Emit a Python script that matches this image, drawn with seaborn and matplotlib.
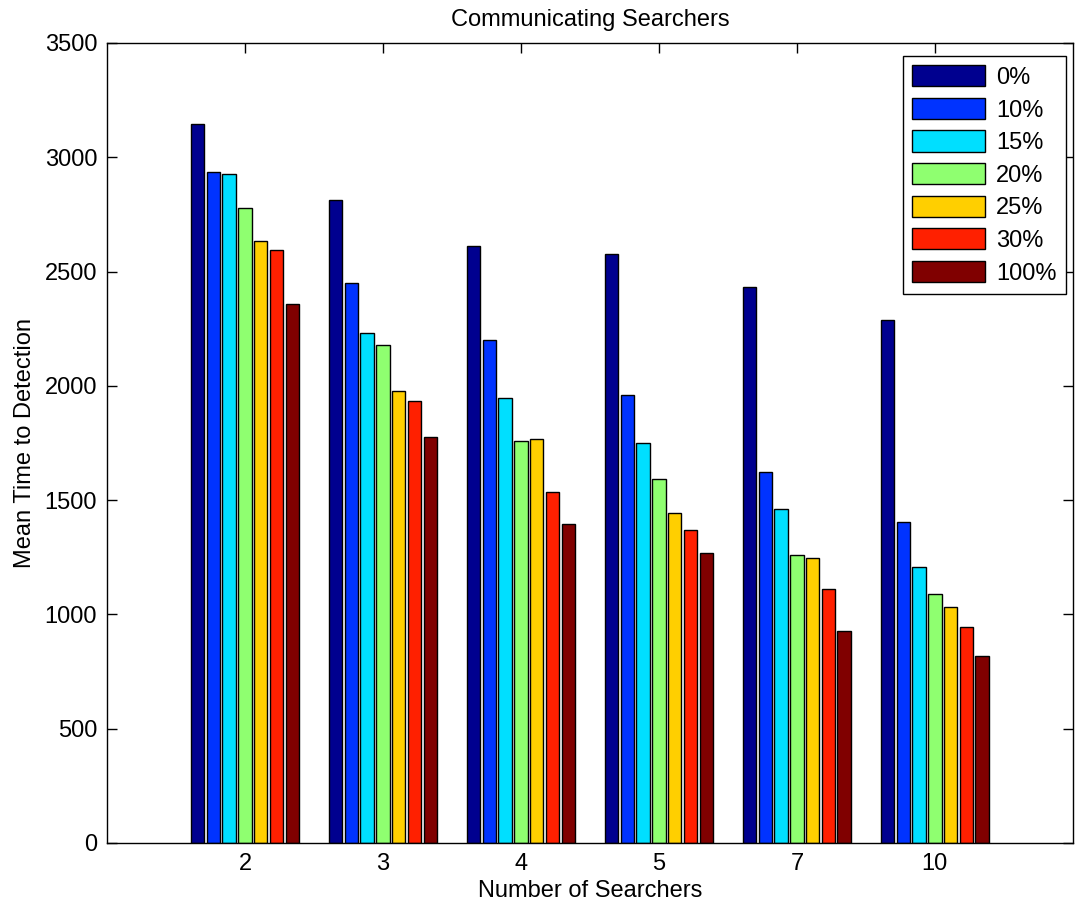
import matplotlib
matplotlib.use("Agg")
import matplotlib.pyplot as plt
import seaborn as sns
import pandas as pd

# Mean detection time per team size and communication level
searchers = ["2", "3", "4", "5", "7", "10"]
levels = ["0%", "10%", "15%", "20%", "25%", "30%", "100%"]
time_0 = [3146, 2815, 2612, 2578, 2431, 2286]
time_10 = [2935, 2451, 2200, 1962, 1623, 1403]
time_15 = [2926, 2231, 1948, 1751, 1459, 1206]
time_20 = [2776, 2178, 1759, 1591, 1261, 1088]
time_25 = [2634, 1978, 1767, 1442, 1247, 1034]
time_30 = [2594, 1932, 1536, 1371, 1112, 946]
time_100 = [2360, 1774, 1396, 1269, 929, 819]
colors = ["#00008F", "#0033FF", "#00DFFF", "#8FFF70", "#FFCF00", "#FF2000", "#800000"]

series = [time_0, time_10, time_15, time_20, time_25, time_30, time_100]
rows = []
for lvl, vals in zip(levels, series):
    for s, v in zip(searchers, vals):
        rows.append({"searchers": s, "comm": lvl, "time": v})
df = pd.DataFrame(rows)

sns.set_theme(style="white")
plt.rcParams["font.family"] = ["Liberation Sans", "DejaVu Sans"]
plt.rcParams["text.color"] = "black"
plt.rcParams["axes.labelcolor"] = "black"
plt.rcParams["xtick.color"] = "black"
plt.rcParams["ytick.color"] = "black"

fig = plt.figure(figsize=(10.75, 9.07), dpi=100)
ax = fig.add_axes([0.0995, 0.0706, 0.8985, 0.882])

sns.barplot(data=df, x="searchers", y="time", hue="comm", order=searchers,
            hue_order=levels, palette=colors, width=0.8, gap=0.15,
            edgecolor="black", linewidth=1.0, saturation=1.0, ax=ax,
            errorbar=None)

ax.set_xlim(-1, 6)
ax.set_ylim(0, 3500)
ax.set_yticks(range(0, 3501, 500))
ax.set_title("Communicating Searchers", fontsize=17, pad=12, color="black")
ax.set_xlabel("Number of Searchers", fontsize=17, labelpad=4)
ax.set_ylabel("Mean Time to Detection", fontsize=17, labelpad=6)

for sp in ax.spines.values():
    sp.set_visible(True)
    sp.set_color("black")
    sp.set_linewidth(1.0)
ax.tick_params(axis="both", which="major", direction="in", length=7, width=1,
               labelsize=17, top=True, right=True, bottom=True, left=True,
               color="black", labelcolor="black", pad=7)

leg = ax.legend(loc="upper right", bbox_to_anchor=(0.9928, 0.984),
                borderaxespad=0, fontsize=17, frameon=True, fancybox=False,
                framealpha=1, edgecolor="black", handlelength=3.1,
                handleheight=1.0, labelspacing=0.38, handletextpad=0.45,
                borderpad=0.4, title=None)
leg.get_frame().set_linewidth(1.0)
for t in leg.get_texts():
    t.set_color("black")

fig.savefig("out.png", dpi=100)
